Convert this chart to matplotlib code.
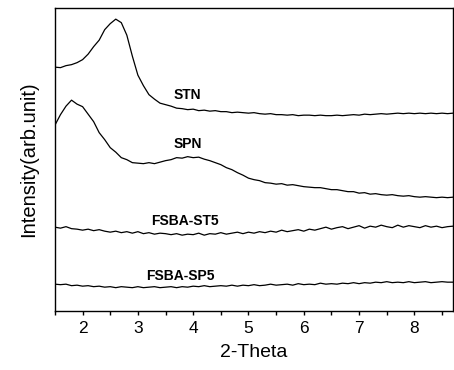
"""XRD patterns (small-angle) of STN, SPN and the FSBA composites."""

from matplotlib import pyplot
from matplotlib.ticker import MultipleLocator
import numpy

# 2-theta sampling grid (step 0.1 deg).
two_theta = numpy.round(numpy.arange(1.5, 8.75, 0.1), 1)

# Intensities (arbitrary units, vertically offset).
stn = [244, 243.5, 245.5, 246.5, 248.5, 251.5, 257, 264.5, 271, 281.5,
       287.5, 292, 288.5, 276, 255, 236, 225.5, 216.5, 212, 208,
       206.5, 205, 203, 202.5, 201.5, 202, 200.5, 201, 200, 200.5,
       199.5, 199.5, 198.5, 199, 198.5, 198, 198.5, 197.5, 197, 197.5,
       196.5, 196.5, 196, 196.5, 195.5, 196, 196, 195.5, 196, 195.5,
       195.5, 196, 195.5, 196, 196.5, 196, 197, 196.5, 197, 197.5,
       197, 197.5, 198, 197.5, 198, 197.5, 198, 197.5, 198, 197.5,
       198, 197.5, 198]
spn = [186, 196.5, 205, 211, 207, 204.5, 197, 189.5, 178.5, 171.5,
       163.5, 159, 153.5, 151.5, 148.5, 148, 147.5, 148.5, 147.5, 149,
       150.5, 151.5, 153.5, 153, 154.5, 153.5, 154, 152, 150.5, 148.5,
       146.5, 143.5, 141.5, 138.5, 136, 133, 131.5, 130.5, 128.5, 128,
       127, 127.5, 126, 126.5, 125.5, 124.5, 124, 123.5, 123.5, 122.5,
       121.5, 121.5, 120.5, 119.5, 119.5, 118, 118.5, 117, 117.5, 116.5,
       116, 116.5, 115.5, 115, 115.5, 114.5, 114, 114.5, 114, 113.5,
       114, 113.5, 114]
fsba_st5 = [84, 83, 84.5, 82.5, 82, 81, 82, 80.5, 81.5, 80,
            79, 80, 78.5, 79.5, 78, 79.5, 77.5, 78.5, 77, 78,
            77.5, 76.5, 77.5, 76, 77, 76.5, 78, 76, 77.5, 77,
            78.5, 77, 78, 79, 77.5, 79, 78, 79.5, 78.5, 80,
            79, 81, 79.5, 80.5, 81.5, 80, 82, 81, 82.5, 84,
            82, 83.5, 84.5, 82.5, 84, 85.5, 83, 85, 84, 86,
            84.5, 83.5, 86, 84, 85.5, 84.5, 83.5, 85.5, 84, 85,
            83.5, 84.5, 85]
fsba_sp5 = [27, 26.5, 27, 25.5, 26, 25, 25.5, 24.5, 25, 24,
            24.5, 23.5, 24.5, 24, 23.5, 24.5, 23.5, 24, 24.5, 23.5,
            24, 24.5, 23.5, 24.5, 24, 25, 24.5, 25.5, 24.5, 25,
            25.5, 25, 26, 25, 26, 25.5, 26.5, 25.5, 26, 27,
            26, 26.5, 27, 26, 27.5, 26.5, 27, 26.5, 28, 27,
            27.5, 27, 28, 27.5, 28.5, 27.5, 28.5, 28, 29, 28.5,
            29.5, 28.5, 29, 28.5, 29.5, 28.5, 29, 29.5, 28.5, 29,
            29.5, 29, 29]

curves = {'STN': stn, 'SPN': spn, 'FSBA-ST5': fsba_st5, 'FSBA-SP5': fsba_sp5}
# Label positions (2-theta, intensity) as placed in the original figure.
label_pos = {'STN': (3.9, 216), 'SPN': (3.9, 167),
             'FSBA-ST5': (3.85, 90), 'FSBA-SP5': (3.76, 35)}

pyplot.rc('font', family='Liberation Sans')

fig = pyplot.figure(figsize=(4.54, 3.70), dpi=100)
ax = fig.add_axes([0.121, 0.159, 0.877, 0.819])
for name, values in curves.items():
    ax.plot(two_theta, values, color='black', linewidth=0.9)
    x, y = label_pos[name]
    ax.text(x, y, name, fontsize=10, fontweight='bold',
            ha='center', va='center')

ax.set_xlim(1.5, 8.7)
ax.set_ylim(0.0, 303.0)
ax.xaxis.set_major_locator(MultipleLocator(1.0))
ax.xaxis.set_minor_locator(MultipleLocator(0.5))
ax.tick_params(axis='x', which='both', direction='out', length=3,
               width=1.0, labelsize=12.5, pad=4)
ax.set_yticks([])
ax.set_xlabel('2-Theta', fontsize=14, labelpad=6)
ax.set_ylabel('Intensity(arb.unit)', fontsize=14.5, labelpad=12)
for spine in ax.spines.values():
    spine.set_linewidth(1.0)

fig.savefig('out.png', dpi=100)
